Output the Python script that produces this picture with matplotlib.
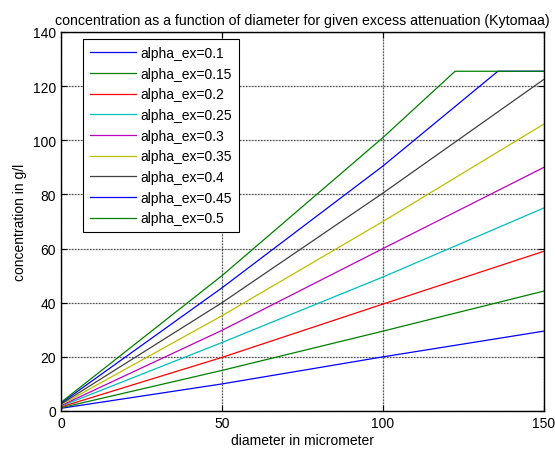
import numpy as np
from matplotlib import pyplot as plt

plt.rcParams['font.family'] = ['Liberation Sans', 'DejaVu Sans']

# valores (concentracion en g/l)
etiquetas = ['alpha_ex=0.1', 'alpha_ex=0.15', 'alpha_ex=0.2', 'alpha_ex=0.25',
             'alpha_ex=0.3', 'alpha_ex=0.35', 'alpha_ex=0.4', 'alpha_ex=0.45',
             'alpha_ex=0.5']
x_comun = [0, 50, 100, 150]
c_01 = [1.0, 10.0, 20.0, 29.5]
c_015 = [1.2, 15.0, 29.5, 44.3]
c_02 = [1.5, 19.8, 39.5, 59.0]
c_025 = [1.8, 25.3, 49.5, 75.0]
c_03 = [2.0, 29.8, 60.0, 90.0]
c_035 = [2.3, 35.2, 70.0, 106.0]
c_04 = [2.6, 40.0, 80.5, 122.5]
x_045 = [0, 50, 100, 135.7, 150]
c_045 = [2.9, 45.5, 90.5, 125.5, 125.5]
x_05 = [0, 50, 100, 122.4, 150]
c_05 = [3.2, 50.0, 101.0, 125.5, 125.5]

series = [(x_comun, c_01), (x_comun, c_015), (x_comun, c_02), (x_comun, c_025),
          (x_comun, c_03), (x_comun, c_035), (x_comun, c_04), (x_045, c_045),
          (x_05, c_05)]
colores = [(0, 0, 1), (0, 0.5, 0), (1, 0, 0), (0, 0.75, 0.75), (0.75, 0, 0.75),
           (0.75, 0.75, 0), (0.25, 0.25, 0.25), (0, 0, 1), (0, 0.5, 0)]

fig = plt.figure(figsize=(5.55, 4.52), dpi=100)
ax = fig.add_axes([0.110, 0.0885, 0.870, 0.8385])

for (xs, ys), col, lab in zip(series, colores, etiquetas):
    ax.plot(xs, ys, color=col, linewidth=0.9, label=lab)

ax.set_xlim(0, 150)
ax.set_ylim(0, 140)
ax.set_xticks([0, 50, 100, 150])
ax.set_yticks(np.arange(0, 141, 20))
ax.grid(True, color='0.15', linestyle=(0, (0.6, 0.6)), linewidth=0.9)
ax.tick_params(direction='in', top=True, right=True, labelsize=10, length=4)
for s in ax.spines.values():
    s.set_linewidth(1.0)

ax.set_title('concentration as a function of diameter for given excess attenuation (Kytomaa)',
             fontsize=10.2, pad=6)
ax.set_xlabel('diameter in micrometer', fontsize=10, labelpad=2)
ax.set_ylabel('concentration in g/l', fontsize=10, labelpad=4)

leg = ax.legend(loc='upper left', bbox_to_anchor=(0.0455, 0.981), borderaxespad=0,
                fontsize=10, fancybox=False, framealpha=1, edgecolor='black',
                handlelength=3.3, handletextpad=0.35, labelspacing=0.48,
                borderpad=0.5)
leg.get_frame().set_linewidth(0.8)

fig.savefig('out.png', dpi=100)
